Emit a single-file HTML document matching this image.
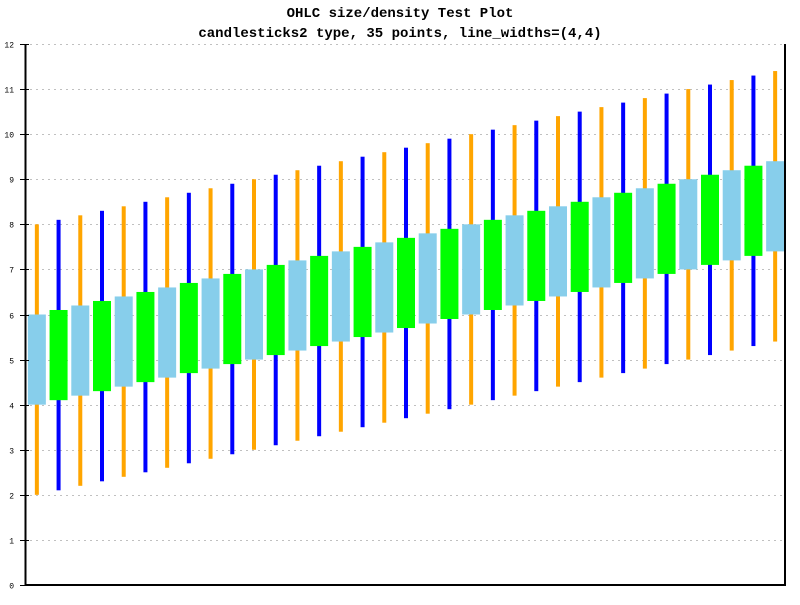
<!DOCTYPE html>
<html><head><meta charset="utf-8"><style>
body{margin:0;background:#fff}
svg text{font-family:"Liberation Mono",monospace}
</style></head><body>
<svg id="chart" width="800" height="600" xmlns="http://www.w3.org/2000/svg">
<rect width="800" height="600" fill="#fff"/>
<text x="400" y="17" text-anchor="middle" font-size="14" font-weight="bold">OHLC size/density Test Plot</text>
<text x="400" y="37" text-anchor="middle" font-size="14" font-weight="bold">candlesticks2 type, 35 points, line_widths=(4,4)</text>
<g id="grid"></g><g id="marks"></g><g id="axes"></g>
</svg>
<script>
const opens=[6,4.1,6.2,4.3,6.4,4.5,6.6,4.7,6.8,4.9,7,5.1,7.2,5.3,7.4,5.5,7.6,5.7,7.8,5.9,8,6.1,8.2,6.3,8.4,6.5,8.6,6.7,8.8,6.9,9,7.1,9.2,7.3,9.4];
const closes=[4,6.1,4.2,6.3,4.4,6.5,4.6,6.7,4.8,6.9,5,7.1,5.2,7.3,5.4,7.5,5.6,7.7,5.8,7.9,6,8.1,6.2,8.3,6.4,8.5,6.6,8.7,6.8,8.9,7,9.1,7.2,9.3,7.4];
const highs=[8,8.1,8.2,8.3,8.4,8.5,8.6,8.7,8.8,8.9,9,9.1,9.2,9.3,9.4,9.5,9.6,9.7,9.8,9.9,10,10.1,10.2,10.3,10.4,10.5,10.6,10.7,10.8,10.9,11,11.1,11.2,11.3,11.4];
const lows=[2,2.1,2.2,2.3,2.4,2.5,2.6,2.7,2.8,2.9,3,3.1,3.2,3.3,3.4,3.5,3.6,3.7,3.8,3.9,4,4.1,4.2,4.3,4.4,4.5,4.6,4.7,4.8,4.9,5,5.1,5.2,5.3,5.4];
const yTicks=[0,1,2,3,4,5,6,7,8,9,10,11,12];
const NS="http://www.w3.org/2000/svg";
const L=25,R=785,T=44,B=585,yMax=12;
const n=opens.length, slot=(R-L)/n;
const xs=i=>L+1+slot*(i+0.5);
const ys=v=>B-(v/yMax)*(B-T);
function mk(tag,attrs,parent){const e=document.createElementNS(NS,tag);for(const k in attrs)e.setAttribute(k,attrs[k]);parent.appendChild(e);return e;}
const grid=document.getElementById('grid'),marks=document.getElementById('marks'),axes=document.getElementById('axes');
yTicks.forEach(t=>{
  const y=Math.round(ys(t))+0.5;
  if(t>0){const g=mk('line',{x1:L+5,x2:R,y1:y,y2:y,stroke:'#c0c0c0','stroke-dasharray':'2,4'},grid);
  
  }
  const tk=mk('line',{x1:L-5,x2:L+4,y1:y,y2:y,stroke:'#000'},axes);
  
  
  const lb=mk('text',{x:L-11,y:y+3,'text-anchor':'end','font-size':'8'},axes);
  lb.textContent=t;
  
  
});
for(let i=0;i<n;i++){
  const up=closes[i]>=opens[i];
  const cx=xs(i);
  const w=mk('rect',{x:cx-2,y:ys(highs[i]),width:4,height:ys(lows[i])-ys(highs[i]),fill:up?'#0000ff':'#ffa500'},marks);
  
  
  const top=Math.max(opens[i],closes[i]),bot=Math.min(opens[i],closes[i]);
  const b=mk('rect',{x:cx-9,y:ys(top),width:18,height:ys(bot)-ys(top),fill:up?'#00ff00':'#87ceeb'},marks);
  
  
}
const ya=mk('line',{x1:L+0.5,x2:L+0.5,y1:T,y2:B+1,stroke:'#000','stroke-width':2},axes);


const yr=mk('line',{x1:R,x2:R,y1:T,y2:B+1,stroke:'#000','stroke-width':2},axes);


const xa=mk('line',{x1:L,x2:R+1,y1:B,y2:B,stroke:'#000','stroke-width':2},axes);


</script>
</body></html>
